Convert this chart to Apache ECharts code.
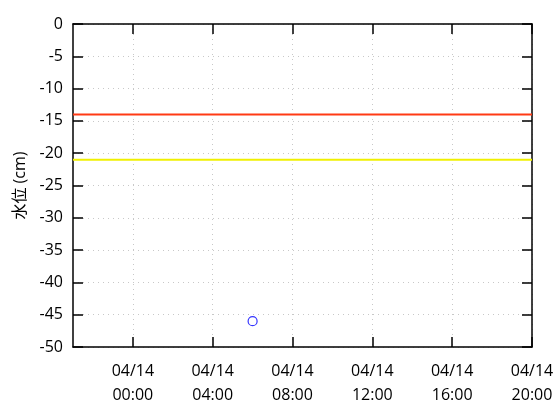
<!DOCTYPE html>
<html><head><meta charset="utf-8">
<script src="https://cdn.jsdelivr.net/npm/echarts@6/dist/echarts.min.js"></script>
<style>html,body{margin:0;padding:0;background:#fff}#c{width:560px;height:420px}</style>
</head><body><div id="c"></div>
<script>
// hours relative to 04/14 00:00
const xMin = -3, xMax = 20;
const tickHours = [0, 4, 8, 12, 16, 20];
const tickDate = '04/14';
const yTicks = [0, -5, -10, -15, -20, -25, -30, -35, -40, -45, -50];
const obsHours = [6];
const obsLevels = [-46];
const redLevel = -14;
const yellowLevel = -21;

const FONT = "'Open Sans', 'Noto Sans CJK JP', sans-serif";
const pad = h => (h < 10 ? '0' : '') + h + ':00';
const grid = {show: true, lineStyle: {color: '#c8c8c8', type: [1, 4], width: 1}};

const chart = echarts.init(document.getElementById('c'));
chart.setOption({
  animation: false,
  grid: {left: 73, right: 28, top: 24, bottom: 73, containLabel: false},
  xAxis: [{
    type: 'value', min: xMin, max: xMax, position: 'bottom',
    axisLine: {show: true, onZero: false, lineStyle: {color: '#000', width: 1.5}},
    axisTick: {show: true, inside: true, length: 10, customValues: tickHours, lineStyle: {color: '#000', width: 1.5}},
    axisLabel: {show: true, customValues: tickHours, margin: 12, color: '#000', fontSize: 16, lineHeight: 24, fontFamily: FONT,
      formatter: v => tickDate + '\n' + pad(v)},
    splitLine: grid
  }, {
    type: 'value', min: xMin, max: xMax, position: 'top',
    axisLine: {show: true, onZero: false, lineStyle: {color: '#000', width: 1.5}},
    axisTick: {show: true, inside: true, length: 10, customValues: tickHours, lineStyle: {color: '#000', width: 1.5}},
    axisLabel: {show: false}, splitLine: {show: false}
  }],
  yAxis: [{
    type: 'value', min: -50, max: 0, interval: 5, position: 'left',
    name: '水位 (cm)', nameLocation: 'middle', nameGap: 44,
    nameTextStyle: {color: '#000', fontSize: 16, fontFamily: FONT},
    axisLine: {show: true, onZero: false, lineStyle: {color: '#000', width: 1.5}},
    axisTick: {show: true, inside: true, length: 10, lineStyle: {color: '#000', width: 1.5}},
    axisLabel: {margin: 10, color: '#000', fontSize: 16, fontFamily: FONT},
    splitLine: grid
  }, {
    type: 'value', min: -50, max: 0, interval: 5, position: 'right',
    axisLine: {show: true, onZero: false, lineStyle: {color: '#000', width: 1.5}},
    axisTick: {show: true, inside: true, length: 10, lineStyle: {color: '#000', width: 1.5}},
    axisLabel: {show: false}, splitLine: {show: false}
  }],
  series: [{
    type: 'line', data: [[xMin, redLevel], [xMax, redLevel]], symbol: 'none',
    lineStyle: {color: '#ff3a14', width: 2}, z: 3
  }, {
    type: 'line', data: [[xMin, yellowLevel], [xMax, yellowLevel]], symbol: 'none',
    lineStyle: {color: '#f0f000', width: 2}, z: 3
  }, {
    type: 'scatter', data: obsHours.map((h, i) => [h, obsLevels[i]]),
    symbol: 'circle', symbolSize: 9,
    itemStyle: {color: 'rgba(0,0,0,0)', borderColor: '#0000ff', borderWidth: 1.2}, z: 4
  }]
});
</script></body></html>
